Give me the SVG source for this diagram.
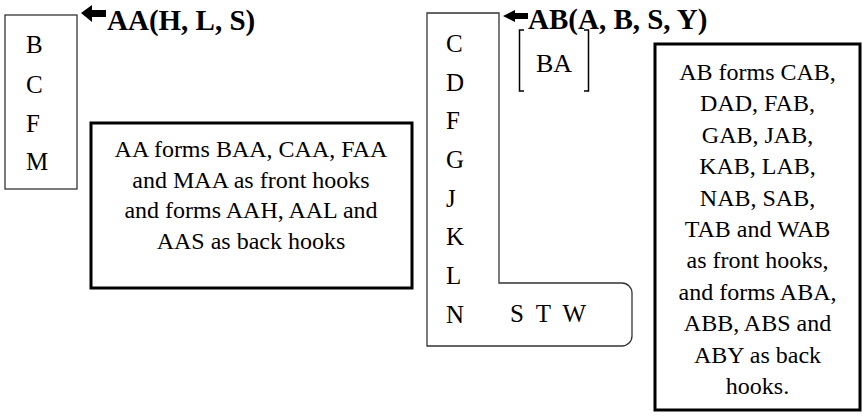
<svg xmlns="http://www.w3.org/2000/svg" width="862" height="417" viewBox="0 0 862 417">
<style>
text{font-family:"Liberation Serif","DejaVu Serif","Times New Roman",serif;fill:#000}
.body{font-size:24px;text-anchor:middle}
.let{font-size:25px}
.head{font-size:29px;font-weight:bold}
.thin{fill:none;stroke:#333;stroke-width:1.3}
.thick{fill:#fff;stroke:#000;stroke-width:3}
.arrow{fill:#000;stroke:none}
</style>
<rect width="862" height="417" fill="#fff"/>
<g id="front-hooks-AA" font-family="Liberation Serif, serif">
<rect class="thin" x="5" y="15" width="72" height="174"/>
<text class="let" x="26" y="53">B</text>
<text class="let" x="26" y="93">C</text>
<text class="let" x="26" y="132">F</text>
<text class="let" x="26" y="170">M</text>
</g>
<g id="label-AA" font-family="Liberation Serif, serif">
<text class="head" x="107" y="30">AA(H, L, S)</text>
</g>
<g id="note-AA" font-family="Liberation Serif, serif">
<rect class="thick" x="91" y="123" width="321" height="165"/>
<text class="body" x="251" y="157">AA forms BAA, CAA, FAA</text>
<text class="body" x="251" y="187.5">and MAA as front hooks</text>
<text class="body" x="251" y="218">and forms AAH, AAL and</text>
<text class="body" x="251" y="248.5">AAS as back hooks</text>
</g>
<g id="hooks-AB" font-family="Liberation Serif, serif">
<path class="thin" d="M427,13 H499 V283 H622 A10,10 0 0 1 632,293 V336 A10,10 0 0 1 622,346 H427 Z"/>
<text class="let" x="446" y="52">C</text>
<text class="let" x="446" y="91">D</text>
<text class="let" x="446" y="129">F</text>
<text class="let" x="446" y="168">G</text>
<text class="let" x="446" y="207">J</text>
<text class="let" x="446" y="245">K</text>
<text class="let" x="446" y="284">L</text>
<text class="let" x="446" y="323">N</text>
<text class="let" x="510" y="322" textLength="76" lengthAdjust="spacing">S T W</text>
</g>
<g id="label-AB" font-family="Liberation Serif, serif">
<text class="head" x="528" y="29">AB(A, B, S, Y)</text>
</g>
<g id="BA" font-family="Liberation Serif, serif">
<path fill="none" stroke="#000" stroke-width="1.5" d="M524,30 H519.5 V91 H524 M584,30 H588.5 V91 H584"/>
<text font-size="26" text-anchor="middle" x="554" y="72">BA</text>
</g>
<g id="note-AB" font-family="Liberation Serif, serif">
<rect class="thick" x="655" y="44" width="205" height="366"/>
<text class="body" x="757.5" y="80">AB forms CAB,</text>
<text class="body" x="757.5" y="111.4">DAD, FAB,</text>
<text class="body" x="757.5" y="142.8">GAB, JAB,</text>
<text class="body" x="757.5" y="174.2">KAB, LAB,</text>
<text class="body" x="757.5" y="205.6">NAB, SAB,</text>
<text class="body" x="757.5" y="237">TAB and WAB</text>
<text class="body" x="757.5" y="268.4">as front hooks,</text>
<text class="body" x="757.5" y="299.8">and forms ABA,</text>
<text class="body" x="757.5" y="331.2">ABB, ABS and</text>
<text class="body" x="757.5" y="362.6">ABY as back</text>
<text class="body" x="757.5" y="394">hooks.</text>
</g>
<g id="connectors">
<polygon class="arrow" points="81,13 92,5 92,10 106,10 106,17 92,17 92,22"/>
<polygon class="arrow" points="503,16 515,10 515,13 528,13 528,19 515,19 515,22"/>
</g>
</svg>
